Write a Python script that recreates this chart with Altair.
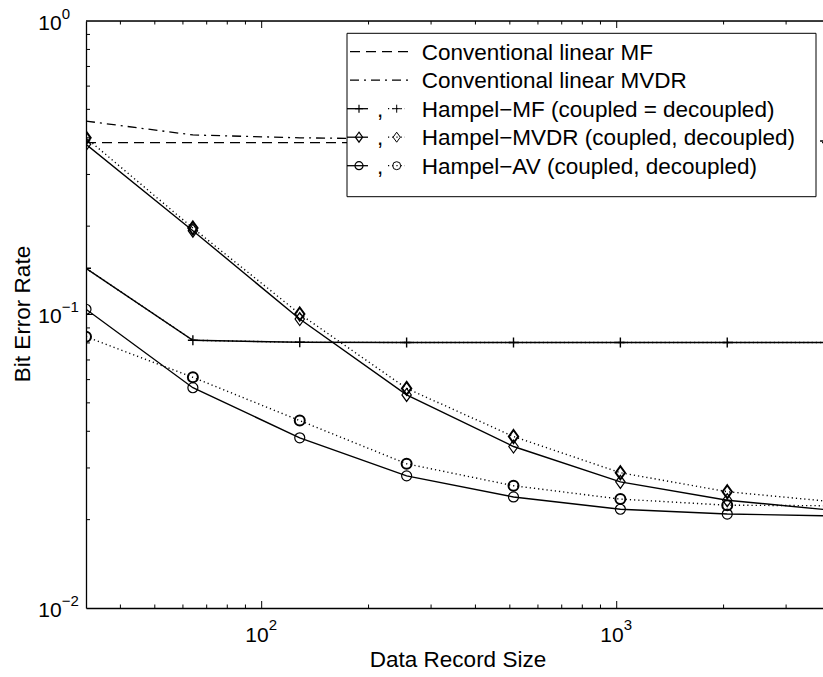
import altair as alt
import pandas as pd

# ---------------- data ----------------
x_vals = [32, 64, 128, 256, 512, 1024, 2048, 4096]
conv_mf = [0.385, 0.385, 0.385, 0.385, 0.385, 0.385, 0.385, 0.385]
conv_mvdr = [0.456, 0.409, 0.400, 0.396, 0.393, 0.391, 0.390, 0.390]
hampel_mf = [0.1437, 0.0817, 0.0804, 0.0803, 0.0803, 0.0803, 0.0803, 0.0803]
hampel_mvdr_c = [0.380, 0.193, 0.0965, 0.0532, 0.0355, 0.0269, 0.0233, 0.0215]
hampel_mvdr_d = [0.400, 0.197, 0.1004, 0.0560, 0.0384, 0.0289, 0.0249, 0.0230]
hampel_av_c = [0.1042, 0.0563, 0.0380, 0.0282, 0.0239, 0.0217, 0.0209, 0.0206]
hampel_av_d = [0.0840, 0.0611, 0.0435, 0.0310, 0.0261, 0.0235, 0.0224, 0.0223]

legend_labels = [
    "Conventional linear MF",
    "Conventional linear MVDR",
    "Hampel\u2212MF (coupled = decoupled)",
    "Hampel\u2212MVDR (coupled, decoupled)",
    "Hampel\u2212AV (coupled, decoupled)",
]
x_major = [100, 1000]
x_exp = ["2", "3"]
x_minor = [40, 50, 60, 70, 80, 90, 200, 300, 400, 500, 600, 700, 800, 900, 2000, 3000]
y_major = [1, 0.1, 0.01]
y_exp = ["0", "\u22121", "\u22122"]
y_minor = [0.02, 0.03, 0.04, 0.05, 0.06, 0.07, 0.08, 0.09,
           0.2, 0.3, 0.4, 0.5, 0.6, 0.7, 0.8, 0.9]
x_title = "Data Record Size"
y_title = "Bit Error Rate"

# ---------------- layout ----------------
W, H = 737, 587
FONT = "Liberation Sans"
xs = alt.Scale(type="log", domain=[32, 3811], nice=False)
ys = alt.Scale(type="log", domain=[0.01, 1], nice=False)
x_axis = alt.Axis(labels=False, ticks=False, title=None, grid=False,
                  domainColor="black", domainWidth=1.3)
y_axis = alt.Axis(labels=False, ticks=False, title=None, grid=False,
                  domainColor="black", domainWidth=1.3)

DIAMOND = "M0,-1L0.72,0L0,1L-0.72,0Z"
PLUS = "M-1,0L1,0M0,-1L0,1"

DOTTED = [1.2, 3]
DASHED = [10, 6]
DASHDOT = [9, 5, 2, 5]


def sdf(vals):
    return pd.DataFrame({"x": x_vals, "y": vals})


def enc_xy(ch):
    return ch.encode(x=alt.X("x:Q", scale=xs, axis=x_axis),
                     y=alt.Y("y:Q", scale=ys, axis=y_axis))


def line(vals, dash=None, width=1.4):
    kw = dict(color="black", strokeWidth=width, clip=True)
    if dash:
        kw["strokeDash"] = dash
    return enc_xy(alt.Chart(sdf(vals)).mark_line(**kw))


def points(vals, shape, size, sw):
    return enc_xy(alt.Chart(sdf(vals)).mark_point(
        shape=shape, size=size, filled=False, color="black",
        strokeWidth=sw, opacity=1, clip=True))


layers = []
# data lines
layers += [
    line(conv_mf, DASHED, 1.3),
    line(conv_mvdr, DASHDOT, 1.3),
    line(hampel_mf, DOTTED, 1.4),
    line(hampel_mf, None, 1.4),
    line(hampel_mvdr_d, DOTTED, 1.4),
    line(hampel_mvdr_c, None, 1.4),
    line(hampel_av_d, DOTTED, 1.4),
    line(hampel_av_c, None, 1.4),
]
# markers
layers += [
    points(hampel_mf, PLUS, 100, 1.4),
    points(hampel_mvdr_c, DIAMOND, 169, 1.2),
    points(hampel_mvdr_d, DIAMOND, 169, 2.0),
    points(hampel_av_c, "circle", 100, 1.2),
    points(hampel_av_d, "circle", 100, 2.0),
]

# ticks (inward), bottom/top and left
def xticks(vals, length):
    d = pd.DataFrame({"x": vals})
    bottom = alt.Chart(d).mark_rule(color="black", strokeWidth=1).encode(
        x=alt.X("x:Q", scale=xs, axis=x_axis),
        y=alt.value(H), y2=alt.value(H - length))
    top = alt.Chart(d).mark_rule(color="black", strokeWidth=1).encode(
        x=alt.X("x:Q", scale=xs, axis=x_axis),
        y=alt.value(0), y2=alt.value(length))
    return [bottom, top]


def yticks(vals, length):
    d = pd.DataFrame({"y": vals})
    return [alt.Chart(d).mark_rule(color="black", strokeWidth=1).encode(
        y=alt.Y("y:Q", scale=ys, axis=y_axis),
        x=alt.value(0), x2=alt.value(length))]


layers += xticks(x_minor, 3.5) + xticks(x_major, 7)
layers += yticks(y_minor, 4) + yticks([0.1], 7)

one = pd.DataFrame({"a": [0]})
# top border
layers.append(alt.Chart(one).mark_rule(color="black", strokeWidth=1.3).encode(
    x=alt.value(0), x2=alt.value(W), y=alt.value(0)))

# tick labels
xl = pd.DataFrame({"x": x_major, "e": x_exp})
layers.append(alt.Chart(xl).mark_text(
    text="10", align="right", baseline="alphabetic", dx=7, fontSize=21,
    font=FONT, color="black").encode(
    x=alt.X("x:Q", scale=xs, axis=x_axis), y=alt.value(H + 33.7)))
layers.append(alt.Chart(xl).mark_text(
    align="left", baseline="alphabetic", dx=7, fontSize=15,
    font=FONT, color="black").encode(
    x=alt.X("x:Q", scale=xs, axis=x_axis), y=alt.value(H + 22), text="e:N"))

yl = pd.DataFrame({"y": y_major, "e": y_exp})
layers.append(alt.Chart(yl).mark_text(
    text="10", align="right", baseline="alphabetic", dy=8.5, fontSize=21,
    font=FONT, color="black").encode(
    y=alt.Y("y:Q", scale=ys, axis=y_axis), x=alt.value(-24.3)))
layers.append(alt.Chart(yl).mark_text(
    align="left", baseline="alphabetic", dy=-2.5, fontSize=15,
    font=FONT, color="black").encode(
    y=alt.Y("y:Q", scale=ys, axis=y_axis), x=alt.value(-24.3), text="e:N"))

# axis titles
layers.append(alt.Chart(one).mark_text(
    text=x_title, align="center", baseline="alphabetic", fontSize=22.5,
    font=FONT, color="black").encode(x=alt.value(372), y=alt.value(646)))
layers.append(alt.Chart(one).mark_text(
    text=y_title, align="center", baseline="middle", angle=270, fontSize=22.5,
    font=FONT, color="black").encode(x=alt.value(-63.5), y=alt.value(293)))

# ---------------- legend ----------------
LX0, LX1, LY0, LY1 = 261, 730, 12.3, 175.7
layers.append(alt.Chart(one).mark_rect(
    fill="white", stroke="black", strokeWidth=1).encode(
    x=alt.value(LX0), x2=alt.value(LX1), y=alt.value(LY0), y2=alt.value(LY1)))

rows = [30.7, 59.2, 87.7, 116.2, 144.7]
TX = 335.7


def lrule(x0, x1, y, dash=None):
    kw = dict(color="black", strokeWidth=1.3)
    if dash:
        kw["strokeDash"] = dash
    return alt.Chart(one).mark_rule(**kw).encode(
        x=alt.value(x0), x2=alt.value(x1), y=alt.value(y))


def lpoint(x, y, shape, size, sw):
    return alt.Chart(one).mark_point(
        shape=shape, size=size, filled=False, color="black", strokeWidth=sw,
        opacity=1).encode(x=alt.value(x), y=alt.value(y))


def ltext(x, y, txt, align="left"):
    return alt.Chart(one).mark_text(
        text=txt, align=align, baseline="middle", fontSize=22.5, font=FONT,
        color="black").encode(x=alt.value(x), y=alt.value(y))


layers.append(lrule(LX0 + 3, 327, rows[0], DASHED))
layers.append(lrule(LX0 + 3, 327, rows[1], DASHDOT))
shapes = [(PLUS, 64, 64), (DIAMOND, 100, 100), ("circle", 64, 64)]
for r, (shp, s1, s2) in zip(rows[2:], shapes):
    layers.append(lrule(LX0, 282, r))
    layers.append(lpoint(273, r, shp, s1, 1.2))
    layers.append(ltext(294, r + 1, ",", "center"))
    layers.append(lrule(302, 319, r, DOTTED))
    layers.append(lpoint(310.7, r, shp, s2, 1.0))
for r, lab in zip(rows, legend_labels):
    layers.append(ltext(TX, r + 1, lab))

chart = alt.layer(*layers).properties(
    width=W, height=H,
    padding={"left": 86, "top": 21, "right": 0, "bottom": 69},
    autosize=alt.AutoSizeParams(type="none"),
).configure_view(stroke=None).configure(background="white")

chart.save("out.html", embed_options={"renderer": "svg", "actions": False})
